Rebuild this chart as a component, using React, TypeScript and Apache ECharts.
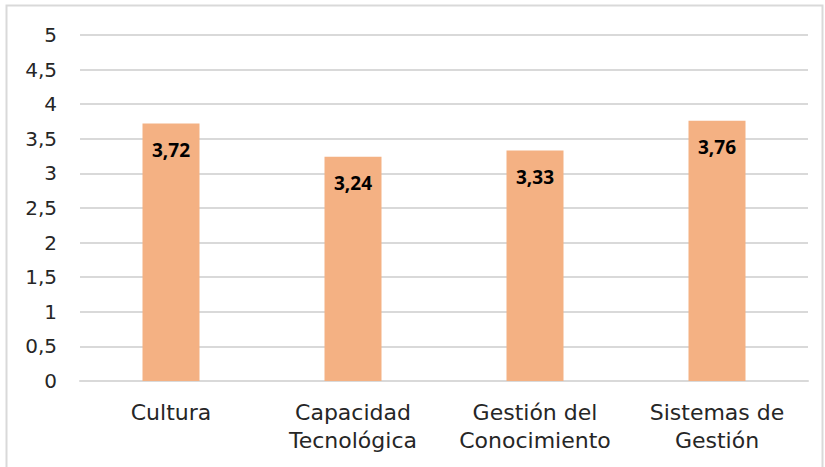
import React, { useEffect, useRef } from "react";
import * as echarts from "echarts";

const categories = ["Cultura", "Capacidad\nTecnológica", "Gestión del\nConocimiento", "Sistemas de\nGestión"];
const values = [3.72, 3.24, 3.33, 3.76];
const yTicks = { min: 0, max: 5, interval: 0.5 };

const fmt = (v: number, d?: number) => (d !== undefined ? v.toFixed(d) : String(v)).replace(".", ",");

export default function App() {
  const ref = useRef<HTMLDivElement>(null);
  useEffect(() => {
    if (!ref.current) return;
    const chart = echarts.init(ref.current, null, { renderer: "svg" });
    chart.setOption({
      animation: false,
      backgroundColor: "#ffffff",
      graphic: [
        {
          type: "rect",
          shape: { x: 6.5, y: 5.5, width: 816, height: 470 },
          style: { fill: "none", stroke: "#d9d9d9", lineWidth: 2 },
          silent: true,
        },
      ],
      grid: { left: 80, right: 17, top: 35, bottom: 86, containLabel: false },
      xAxis: {
        type: "category",
        data: categories,
        axisLine: { show: true, lineStyle: { color: "#d9d9d9", width: 2 } },
        axisTick: { show: false },
        axisLabel: {
          color: "#262626",
          fontFamily: "'DejaVu Sans', sans-serif",
          fontSize: 22,
          lineHeight: 28,
          margin: 17,
          interval: 0,
        },
      },
      yAxis: {
        type: "value",
        min: yTicks.min,
        max: yTicks.max,
        interval: yTicks.interval,
        axisLine: { show: false },
        axisTick: { show: false },
        splitLine: { lineStyle: { color: "#d9d9d9", width: 2 } },
        axisLabel: {
          color: "#262626",
          fontFamily: "'DejaVu Sans', sans-serif",
          fontSize: 20,
          margin: 23,
          formatter: (v: number) => fmt(v),
        },
      },
      series: [
        {
          type: "bar",
          data: values,
          barWidth: 57,
          itemStyle: { color: "#F4B183" },
          label: {
            show: true,
            position: "insideTop",
            distance: 17,
            color: "#000000",
            fontWeight: "bold",
            fontSize: 19,
            fontFamily: "'Open Sans', 'Liberation Sans', sans-serif",
            formatter: (p: any) => fmt(p.value, 2),
          },
        },
      ],
    });
    return () => chart.dispose();
  }, []);
  return (
    <div
      ref={ref}
      style={{ position: "absolute", left: 0, top: 0, width: 825, height: 467 }}
    />
  );
}
